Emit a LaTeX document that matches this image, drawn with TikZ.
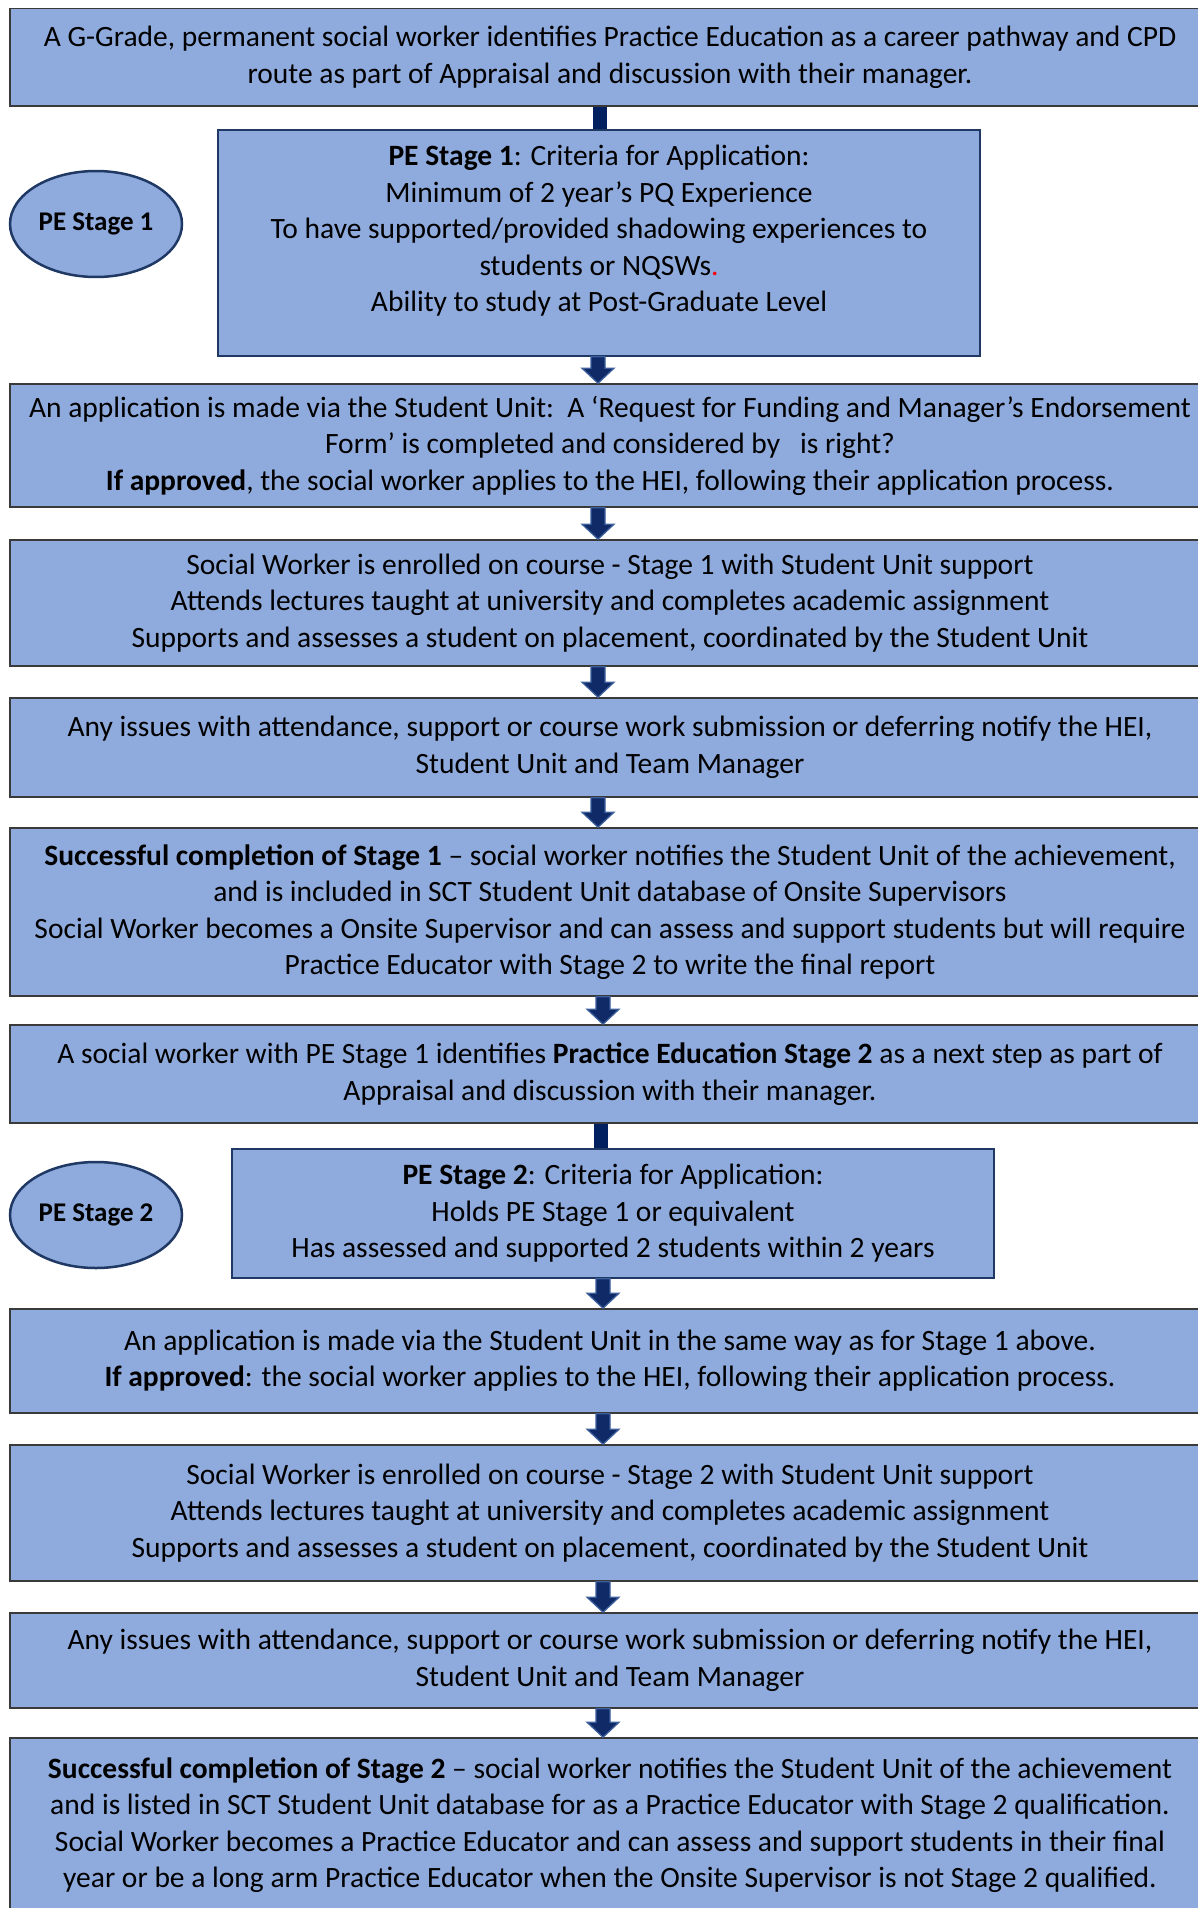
\documentclass[tikz,border=0pt]{standalone}
\usepackage{fontspec}
\setmainfont{Carlito}
\usetikzlibrary{shapes.geometric,calc}
\definecolor{boxfill}{HTML}{8FAADC}
\definecolor{wideedge}{HTML}{3A3A3A}
\definecolor{navyedge}{HTML}{1F3864}
\definecolor{barnavy}{HTML}{002060}
\definecolor{arrfill}{HTML}{0F2A66}
\definecolor{arredge}{HTML}{3D5F9C}
\tikzset{
  widebox/.style={draw=wideedge, line width=1.6pt, fill=boxfill, minimum width=1200pt, align=center, inner sep=0pt},
  critbox/.style={draw=navyedge, line width=1.4pt, fill=boxfill, minimum width=762pt, align=center, inner sep=0pt},
  stageell/.style={ellipse, draw=navyedge, line width=2.5pt, fill=boxfill, minimum width=172pt, minimum height=106pt, inner sep=0pt, font=\fontsize{27}{30}\selectfont\bfseries},
  blockarr/.style={fill=arrfill, draw=arredge, line width=1.3pt, line join=miter},
  connbar/.style={draw=barnavy, line width=14pt}
}
\newcommand{\blockarrow}[3]{%
  \path[blockarr] let \p1=(#1.south), \p2=(#2.north) in
  (#3pt-7pt,\y1) -- (#3pt-7pt,\y2+15pt) -- (#3pt-16pt,\y2+15pt) -- (#3pt,\y2)
  -- (#3pt+16pt,\y2+15pt) -- (#3pt+7pt,\y2+15pt) -- (#3pt+7pt,\y1) -- cycle;}
\newcommand{\connectbar}[3]{%
  \draw[connbar] let \p1=(#1.south), \p2=(#2.north) in (#3pt,\y1) -- (#3pt,\y2);}
\begin{document}
\begin{tikzpicture}[x=1pt,y=-1pt,font=\fontsize{29.5}{36.5}\selectfont]
\useasboundingbox (0,0) rectangle (1198,1908);
\clip (0,0) rectangle (1198,1908);

\node[widebox, minimum height=97.5pt] (b1) at (610,57.25)
 {A G-Grade, permanent social worker identifies Practice Education as a career pathway and CPD\\
  route as part of Appraisal and discussion with their manager.};

\node[critbox, minimum height=226pt] (b2) at (599,243) {};
\node[align=center, inner sep=0pt] (b2t) at (599,231)
 {\textbf{PE Stage 1}: Criteria for Application:\\
  Minimum of 2 year’s PQ Experience\\
  To have supported/provided shadowing experiences to\\
  students or NQSWs\textcolor{red}{.}\\
  Ability to study at Post-Graduate Level};
\node[stageell] (e1) at (96,224) {PE Stage 1};

\node[widebox, minimum height=123pt] (b3) at (610,445.5)
 {An application is made via the Student Unit:\ \ A ‘Request for Funding and Manager’s Endorsement\\
  Form’ is completed and considered by\ \ \ is right?\\
  \textbf{If approved}, the social worker applies to the HEI, following their application process.};

\node[widebox, minimum height=126pt] (b4) at (610,603)
 {Social Worker is enrolled on course - Stage 1 with Student Unit support\\
  Attends lectures taught at university and completes academic assignment\\
  Supports and assesses a student on placement, coordinated by the Student Unit};

\node[widebox, minimum height=99pt] (b5) at (610,747.5)
 {Any issues with attendance, support or course work submission or deferring notify the HEI,\\
  Student Unit and Team Manager};

\node[widebox, minimum height=168pt] (b6) at (610,912)
 {\textbf{Successful completion of Stage 1} – social worker notifies the Student Unit of the achievement,\\
  and is included in SCT Student Unit database of Onsite Supervisors\\
  Social Worker becomes a Onsite Supervisor and can assess and support students but will require\\
  Practice Educator with Stage 2 to write the final report};

\node[widebox, minimum height=98pt] (b7) at (610,1074)
 {A social worker with PE Stage 1 identifies \textbf{Practice Education Stage 2} as a next step as part of\\
  Appraisal and discussion with their manager.};

\node[critbox, minimum height=129pt] (b8) at (613,1213.5)
 {\textbf{PE Stage 2}: Criteria for Application:\\
  Holds PE Stage 1 or equivalent\\
  Has assessed and supported 2 students within 2 years};
\node[stageell] (e2) at (96,1215) {PE Stage 2};

\node[widebox, minimum height=104pt] (b9) at (610,1361)
 {An application is made via the Student Unit in the same way as for Stage 1 above.\\
  \textbf{If approved}: the social worker applies to the HEI, following their application process.};

\node[widebox, minimum height=136pt] (b10) at (610,1513)
 {Social Worker is enrolled on course - Stage 2 with Student Unit support\\
  Attends lectures taught at university and completes academic assignment\\
  Supports and assesses a student on placement, coordinated by the Student Unit};

\node[widebox, minimum height=95pt] (b11) at (610,1660.5)
 {Any issues with attendance, support or course work submission or deferring notify the HEI,\\
  Student Unit and Team Manager};

\node[widebox, minimum height=174pt] (b12) at (610,1825)
 {\textbf{Successful completion of Stage 2} – social worker notifies the Student Unit of the achievement\\
  and is listed in SCT Student Unit database for as a Practice Educator with Stage 2 qualification.\\
  Social Worker becomes a Practice Educator and can assess and support students in their final\\
  year or be a long arm Practice Educator when the Onsite Supervisor is not Stage 2 qualified.};

\connectbar{b1}{b2}{600}
\connectbar{b7}{b8}{601}
\blockarrow{b2}{b3}{598}
\blockarrow{b3}{b4}{598}
\blockarrow{b4}{b5}{598}
\blockarrow{b5}{b6}{598}
\blockarrow{b6}{b7}{603}
\blockarrow{b8}{b9}{603}
\blockarrow{b9}{b10}{603}
\blockarrow{b10}{b11}{603}
\blockarrow{b11}{b12}{603}
\end{tikzpicture}
\end{document}
